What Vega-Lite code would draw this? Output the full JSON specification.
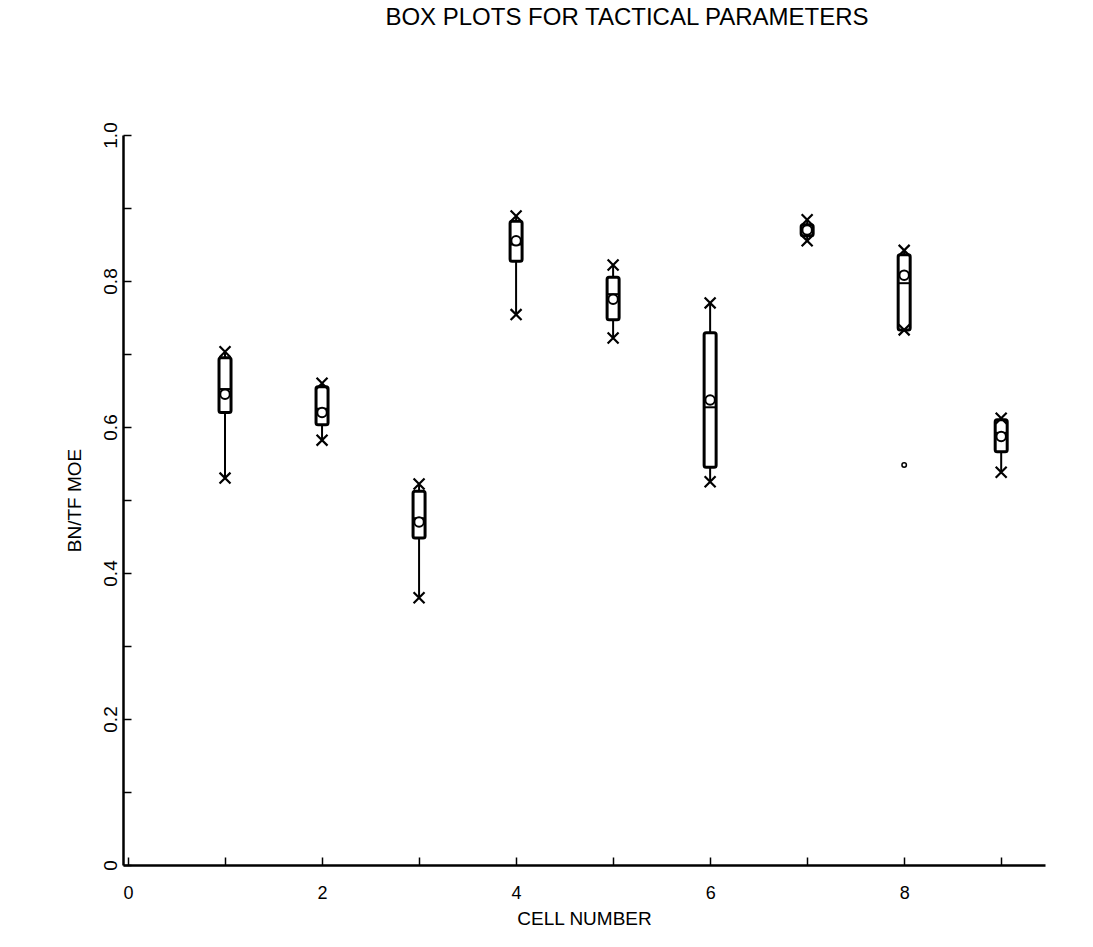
{
  "$schema": "https://vega.github.io/schema/vega-lite/v6.json",
  "autosize": {"type": "none"},
  "width": 922,
  "height": 730,
  "padding": {"left": 123, "top": 135, "right": 48, "bottom": 82},
  "background": "white",
  "config": {
    "view": {"stroke": null},
    "font": "Liberation Sans",
    "axis": {"grid": false, "domainColor": "black", "tickColor": "black", "labelColor": "black", "titleColor": "black", "labelFont": "Liberation Sans", "titleFont": "Liberation Sans", "titleFontWeight": "normal"}
  },
  "title": {
    "text": "BOX PLOTS FOR TACTICAL PARAMETERS",
    "fontSize": 24,
    "fontWeight": "normal",
    "font": "Liberation Sans",
    "color": "black",
    "anchor": "middle",
    "dx": 43,
    "offset": 92
  },
  "datasets": {
    "boxes": [
      {"cell": 1, "min": 0.53, "q1": 0.62, "median": 0.652, "q3": 0.695, "max": 0.703, "mean": 0.645},
      {"cell": 2, "min": 0.582, "q1": 0.603, "median": 0.625, "q3": 0.655, "max": 0.66, "mean": 0.62},
      {"cell": 3, "min": 0.366, "q1": 0.448, "median": 0.475, "q3": 0.512, "max": 0.522, "mean": 0.47},
      {"cell": 4, "min": 0.754, "q1": 0.827, "median": 0.85, "q3": 0.882, "max": 0.889, "mean": 0.855},
      {"cell": 5, "min": 0.722, "q1": 0.747, "median": 0.782, "q3": 0.805, "max": 0.822, "mean": 0.775},
      {"cell": 6, "min": 0.525, "q1": 0.545, "median": 0.627, "q3": 0.729, "max": 0.77, "mean": 0.637},
      {"cell": 7, "min": 0.855, "q1": 0.862, "median": 0.87, "q3": 0.877, "max": 0.884, "mean": 0.87},
      {"cell": 8, "min": 0.733, "q1": 0.733, "median": 0.797, "q3": 0.836, "max": 0.842, "mean": 0.808},
      {"cell": 9, "min": 0.538, "q1": 0.566, "median": 0.592, "q3": 0.61, "max": 0.612, "mean": 0.587}
    ],
    "outliers": [
      {"cell": 8, "value": 0.548}
    ]
  },
  "encoding": {
    "x": {
      "field": "cell",
      "type": "quantitative",
      "scale": {"domain": [0, 9.4], "nice": false, "zero": false},
      "axis": {
        "values": [0, 1, 2, 3, 4, 5, 6, 7, 8, 9],
        "labelExpr": "datum.value % 2 == 0 ? datum.label : ''",
        "tickSize": -8,
        "tickWidth": 1.5,
        "domainWidth": 2.5,
        "labelPadding": 27,
        "labelFontSize": 18,
        "labelColor": "black",
        "title": "CELL NUMBER",
        "titleFontSize": 19,
        "titleColor": "black",
        "titlePadding": 7
      }
    }
  },
  "layer": [
    {
      "data": {"name": "boxes"},
      "mark": {"type": "rule", "color": "black", "strokeWidth": 2},
      "encoding": {
        "y": {
          "field": "min",
          "type": "quantitative",
          "scale": {"domain": [0, 1], "nice": false},
          "axis": {
            "values": [0, 0.1, 0.2, 0.3, 0.4, 0.5, 0.6, 0.7, 0.8, 0.9, 1.0],
            "labelExpr": "datum.value == 0 ? '0' : (round(datum.value * 10) % 2 == 0 ? format(datum.value, '.1f') : '')",
            "tickSize": -8,
            "tickWidth": 1.5,
            "domainWidth": 2.5,
            "labelAngle": 270,
            "labelAlign": "center",
            "labelBaseline": "bottom",
            "labelPadding": 11,
            "labelFontSize": 19,
            "labelColor": "black",
            "title": "BN/TF MOE",
            "titleFontSize": 19,
            "titleColor": "black",
            "titlePadding": 17
          }
        },
        "y2": {"field": "max"}
      }
    },
    {
      "data": {"name": "boxes"},
      "mark": {"type": "bar", "fill": "white", "stroke": "black", "strokeWidth": 3, "width": 12, "cornerRadius": 2},
      "encoding": {
        "y": {"field": "q1", "type": "quantitative"},
        "y2": {"field": "q3"}
      }
    },
    {
      "data": {"name": "boxes"},
      "mark": {"type": "tick", "orient": "horizontal", "color": "black", "size": 12, "thickness": 2, "opacity": 1},
      "encoding": {
        "y": {"field": "median", "type": "quantitative"}
      }
    },
    {
      "data": {"name": "boxes"},
      "mark": {"type": "point", "shape": "circle", "filled": false, "fill": "white", "fillOpacity": 1, "stroke": "black", "strokeWidth": 2, "size": 90, "opacity": 1},
      "encoding": {
        "y": {"field": "mean", "type": "quantitative"}
      }
    },
    {
      "data": {"name": "boxes"},
      "mark": {"type": "point", "shape": "M-1,-1L1,1M1,-1L-1,1", "filled": false, "stroke": "black", "strokeWidth": 2.2, "size": 120, "opacity": 1},
      "encoding": {
        "y": {"field": "max", "type": "quantitative"}
      }
    },
    {
      "data": {"name": "boxes"},
      "mark": {"type": "point", "shape": "M-1,-1L1,1M1,-1L-1,1", "filled": false, "stroke": "black", "strokeWidth": 2.2, "size": 120, "opacity": 1},
      "encoding": {
        "y": {"field": "min", "type": "quantitative"}
      }
    },
    {
      "data": {"name": "outliers"},
      "mark": {"type": "point", "shape": "circle", "filled": false, "stroke": "black", "strokeWidth": 1.5, "size": 20, "opacity": 1},
      "encoding": {
        "y": {"field": "value", "type": "quantitative"}
      }
    }
  ]
}
